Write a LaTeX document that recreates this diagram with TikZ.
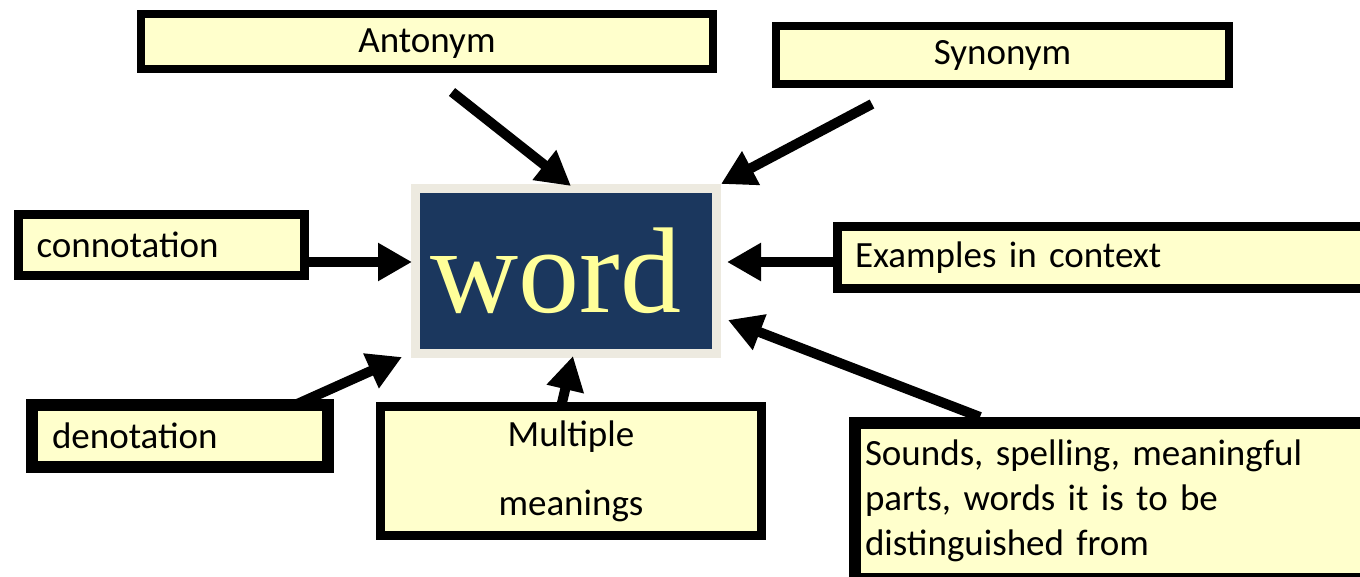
\documentclass[tikz,border=0pt]{standalone}
\usepackage{fontspec}
\setmainfont{Carlito}
\newfontfamily\serifword{Liberation Serif}
\usetikzlibrary{arrows.meta}
\definecolor{boxfill}{HTML}{FFFFCC}
\definecolor{navy}{HTML}{1B375E}
\definecolor{rim}{HTML}{EDEAE0}
\definecolor{wordtext}{HTML}{FFFF99}

\begin{document}
\begin{tikzpicture}[x=0.5pt,y=-0.5pt,
    idea/.style={draw=black,fill=boxfill,line width=4pt,inner sep=0pt,
      font=\fontsize{18.5}{22.5}\selectfont},
    arr/.style={line width=5pt,-{Triangle[length=17pt,width=18pt]}}]
        \useasboundingbox (0,0) rectangle (1360,577);

        % the word in the middle
        \node[draw=rim,fill=navy,line width=4.5pt,minimum width=150.5pt,minimum height=82.5pt,
          inner sep=0pt,text=wordtext,font=\serifword\fontsize{61}{61}\selectfont] (word) at (566,271) {word\kern10pt};

        % boxes around it
        \node[idea,minimum width=286pt,minimum height=27.5pt,text depth=1pt] (ant) at (427,41.5) {Antonym};
        \node[idea,minimum width=226.5pt,minimum height=29pt] (syn) at (1002.5,55) {Synonym};
        \node[idea,line width=4.5pt,inner xsep=9pt,text width=125pt,align=left,minimum height=30.5pt] (con) at (161.5,245) {connotation};
        \node[idea,line width=4.5pt,inner xsep=9pt,text width=247pt,align=left,minimum height=31pt] (ex) at (1102,257.5) {Examples in context};
        \node[idea,line width=6pt,inner xsep=10pt,text width=128pt,align=left,minimum height=31pt] (den) at (180,436) {denotation};
        \node[idea,line width=4.5pt,text width=190.5pt,align=center,minimum height=64.5pt,
          font=\fontsize{18.5}{34.5}\selectfont] (mult) at (571,471) {Multiple\\meanings};
        \node[idea,line width=6pt,anchor=north west,inner xsep=5pt,inner ysep=8.5pt,text width=250pt,align=left] (snd) at (849,417)
          {Sounds, spelling, meaningful\\parts, words it is to be\\distinguished from};

        % arrow ends
        \coordinate (antTail) at (452,92);
        \coordinate (antTip) at (571,186);
        \coordinate (synTail) at (872,104);
        \coordinate (conTip) at (412,262);
        \coordinate (exTip) at (727,262);
        \coordinate (denTail) at (295,405);
        \coordinate (denTip) at (402,357);
        \coordinate (multTail) at (561,407);
        \coordinate (multTip) at (573,356);
        \coordinate (sndTail) at (980,417);
        \coordinate (sndTip) at (728,320);

        \draw[arr] (antTail) -- (antTip);
        \draw[arr] (synTail) -- (word.north east);
        \draw[arr] (con.east |- conTip) -- (conTip);
        \draw[arr] (ex.west |- exTip) -- (exTip);
        \draw[arr] (denTail) -- (denTip);
        \draw[arr] (multTail) -- (multTip);
        \draw[arr] (sndTail) -- (sndTip);
    \end{tikzpicture}
\end{document}
